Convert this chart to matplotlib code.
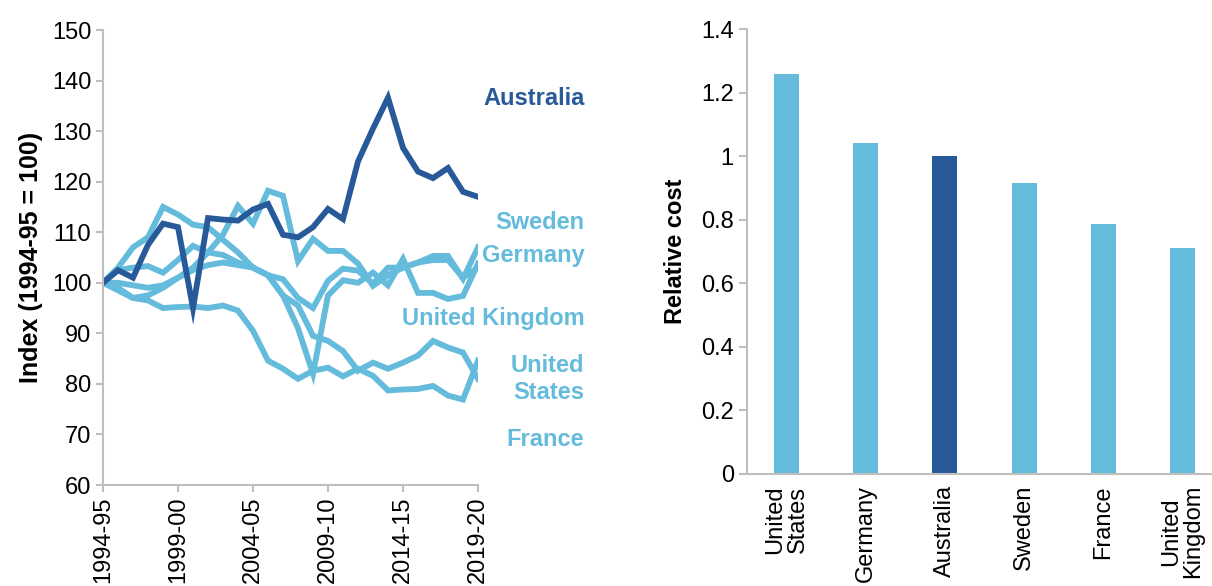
import matplotlib
matplotlib.use("Agg")
import matplotlib.pyplot as plt
import numpy as np

plt.rcParams['font.family'] = ['Liberation Sans', 'DejaVu Sans']

LIGHT = '#64BBDB'
DARK = '#285A99'
GREY = '#BFBFBF'

# left panel: index of cost, 1994-95 = 100
years = ['1994-95', '1999-00', '2004-05', '2009-10', '2014-15', '2019-20']
australia = [100, 102.5, 101, 107.5, 111.7, 111, 95, 112.8, 112.5, 112.3, 114.5, 115.6, 109.5,
             109, 111, 114.6, 112.6, 124, 130.5, 136.6, 126.7, 122, 120.7, 122.7, 118, 117]
sweden = [100, 100, 99.5, 99, 99.5, 101, 103, 106, 109.5, 115.2, 111.7, 118.2, 117.2,
          104.3, 108.7, 106.3, 106.3, 103.8, 99.4, 101.5, 103, 104, 104.5, 104.5, 101, 103]
germany = [100, 103, 107, 109, 115, 113.5, 111.5, 111, 108.5, 106, 103, 101.5, 97.5,
           91, 82, 97.5, 100.5, 100, 102, 99.5, 104.7, 98, 98, 96.8, 97.4, 103.8]
uk = [100, 102.5, 103, 103.3, 102, 104.5, 107.3, 106, 105.5, 104, 103, 101.5, 100.7,
      97, 95, 100.4, 102.8, 102.4, 99.8, 103, 103, 104, 105.3, 105.3, 100.8, 107]
us = [100, 98.5, 97, 97.5, 99, 101, 102.5, 103.5, 104, 103.5, 103, 101.5, 97.5,
      95.5, 89.5, 88.5, 86.5, 82.6, 84.2, 83, 84.2, 85.6, 88.5, 87.2, 86.2, 81]
france = [100, 99, 97, 96.5, 95, 95.2, 95.3, 95, 95.5, 94.5, 90.5, 84.6, 83, 81,
          82.6, 83.2, 81.5, 83, 81.6, 78.7, 78.9, 79, 79.6, 77.7, 76.9, 84.6]

# label text and the value where each label sits
labels = ['Australia', 'Sweden', 'Germany', 'United Kingdom', 'United\nStates', 'France']
label_y = [136.5, 112, 105.3, 93, 81, 69]

# right panel: relative cost
countries = ['United\nStates', 'Germany', 'Australia', 'Sweden', 'France', 'United\nKingdom']
rel_cost = [1.26, 1.04, 1.0, 0.915, 0.785, 0.71]

fig = plt.figure(figsize=(12.12, 5.86), dpi=100)

ax = fig.add_axes([103 / 1212, 1 - 485 / 586, 375 / 1212, 455 / 586])
x = np.arange(len(australia))
for s in [sweden, germany, uk, us, france]:
    ax.plot(x, s, color=LIGHT, lw=4.2, solid_joinstyle='miter')
ax.plot(x, australia, color=DARK, lw=4.2, solid_joinstyle='miter')
ax.set_xlim(0, 25)
ax.set_ylim(60, 150)
ax.set_yticks(range(60, 151, 10))
ax.set_xticks(range(0, 26, 5))
ax.set_xticklabels(years, rotation=90)
for sp in ['top', 'right']:
    ax.spines[sp].set_visible(False)
for sp in ['left', 'bottom']:
    ax.spines[sp].set_color(GREY)
    ax.spines[sp].set_linewidth(1.5)
ax.tick_params(axis='both', colors=GREY, labelcolor='black', labelsize=17, length=5, width=1.5)
ax.set_ylabel('Index (1994-95 = 100)', fontsize=18, fontweight='bold', labelpad=6)

for i, (lab, ly) in enumerate(zip(labels, label_y)):
    ax.text(32.1, ly, lab, ha='right', va='center', fontsize=17, fontweight='bold',
            color=DARK if i == 0 else LIGHT, clip_on=False, linespacing=1.25)

# right panel
ax2 = fig.add_axes([747 / 1212, 1 - 474 / 586, 475 / 1212, 445 / 586])
bx = np.arange(len(countries))
ax2.bar(bx, rel_cost, width=0.315, color=[LIGHT, LIGHT, DARK, LIGHT, LIGHT, LIGHT])
ax2.set_xlim(-0.5, 5.5)
ax2.set_ylim(0, 1.4)
ax2.set_yticks(np.arange(0, 1.41, 0.2))
ax2.set_yticklabels(['0', '0.2', '0.4', '0.6', '0.8', '1', '1.2', '1.4'])
ax2.set_xticks(bx)
ax2.set_xticklabels(countries, rotation=90, linespacing=1.0)
for sp in ['top', 'right']:
    ax2.spines[sp].set_visible(False)
for sp in ['left', 'bottom']:
    ax2.spines[sp].set_color(GREY)
    ax2.spines[sp].set_linewidth(1.5)
ax2.tick_params(axis='y', colors=GREY, labelcolor='black', labelsize=17, length=6, width=1.5)
ax2.tick_params(axis='x', length=0, labelsize=17, pad=8)
ax2.set_ylabel('Relative cost', fontsize=17, fontweight='bold', labelpad=10)

fig.savefig('out.png', dpi=100)
